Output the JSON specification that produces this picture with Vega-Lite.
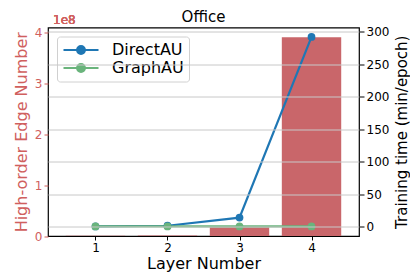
{
  "$schema": "https://vega.github.io/schema/vega-lite/v6.json",
  "width": 311,
  "height": 208.5,
  "autosize": "none",
  "padding": {"left": 48, "top": 27.5, "right": 51, "bottom": 40},
  "config": {
    "font": "DejaVu Sans",
    "view": {"stroke": "black", "strokeWidth": 1.2},
    "axis": {"labelFont": "DejaVu Sans", "titleFont": "DejaVu Sans", "titleFontWeight": "normal"}
  },
  "title": {"text": "Office", "fontSize": 15, "fontWeight": "normal", "font": "DejaVu Sans", "offset": 5, "dy": 16, "color": "black"},
  "datasets": {
    "edges": [
      {"layer": 1, "edges": 300000},
      {"layer": 2, "edges": 1000000},
      {"layer": 3, "edges": 17000000},
      {"layer": 4, "edges": 390000000}
    ],
    "time": [
      {"layer": 1, "method": "DirectAU", "time": 0.5},
      {"layer": 2, "method": "DirectAU", "time": 1.5},
      {"layer": 3, "method": "DirectAU", "time": 14},
      {"layer": 4, "method": "DirectAU", "time": 292},
      {"layer": 1, "method": "GraphAU", "time": 0.4},
      {"layer": 2, "method": "GraphAU", "time": 0.5},
      {"layer": 3, "method": "GraphAU", "time": 0.5},
      {"layer": 4, "method": "GraphAU", "time": 0.5}
    ]
  },
  "encoding": {
    "x": {
      "field": "layer", "type": "quantitative",
      "scale": {"domain": [0.41, 4.59], "nice": false, "zero": false},
      "axis": {"values": [1, 2, 3, 4], "format": "d", "grid": false, "domain": false,
        "tickColor": "black", "tickSize": 4, "labelFontSize": 12, "labelColor": "black",
        "title": "Layer Number", "titleFontSize": 16, "titleColor": "black", "titlePadding": 2}
    }
  },
  "layer": [
    {
      "data": {"name": "edges"},
      "encoding": {
        "y": {
          "field": "edges", "type": "quantitative",
          "scale": {"domain": [0, 409000000], "nice": false},
          "axis": {"orient": "left", "values": [0, 100000000, 200000000, 300000000, 400000000],
            "labelExpr": "format(datum.value / 1e8, 'd')", "grid": false, "domain": false,
            "tickColor": "#d0605e", "labelColor": "#d0605e", "tickSize": 4, "labelFontSize": 12,
            "title": "High-order Edge Number", "titleColor": "#d0605e", "titleFontSize": 16, "titlePadding": 5}
        }
      },
      "layer": [
        {"mark": {"type": "bar", "width": 59.4, "color": "#c9666a"}},
        {
          "mark": {"type": "text", "text": "1e8", "align": "left", "baseline": "bottom", "dy": -1, "fontSize": 12, "color": "#d0605e"},
          "encoding": {"x": {"datum": 0.41}, "y": {"datum": 409000000}}
        }
      ]
    },
    {
      "data": {"name": "time"},
      "encoding": {
        "y": {
          "field": "time", "type": "quantitative",
          "scale": {"domain": [-14.3, 306.5], "nice": false, "zero": false},
          "axis": {"orient": "right", "values": [0, 50, 100, 150, 200, 250, 300], "grid": true,
            "gridColor": "#c8c8c8", "gridWidth": 1, "zindex": 1, "domain": false,
            "tickColor": "black", "tickSize": 5, "labelPadding": 2, "labelFontSize": 12, "labelColor": "black",
            "title": "Training time (min/epoch)", "titleAngle": 270, "titleColor": "black", "titleFontSize": 15, "titlePadding": 21}
        },
        "color": {
          "field": "method", "type": "nominal",
          "scale": {"domain": ["DirectAU", "GraphAU"], "range": ["#1f77b4", "#6ab47c"]},
          "legend": {
            "title": null, "orient": "top-left", "offset": 9, "padding": 5,
            "strokeColor": "#d0d0d0", "cornerRadius": 3, "fillColor": "white",
            "labelFontSize": 16, "labelColor": "black", "labelFont": "DejaVu Sans",
            "symbolType": "M-1,0L4,0M0.95,0A0.55,0.55 0 1,1 2.05,0A0.55,0.55 0 1,1 0.95,0Z",
            "symbolSize": 196, "symbolStrokeWidth": 2.2, "rowPadding": 1, "labelOffset": 33,
            "encode": {"symbols": {"update": {"fill": {"scale": "color", "field": "value"}, "fillOpacity": {"value": 1}}}}
          }
        }
      },
      "mark": {"type": "line", "strokeWidth": 2.2, "point": {"filled": true, "size": 60, "opacity": 1}}
    }
  ],
  "resolve": {"scale": {"y": "independent"}}
}
